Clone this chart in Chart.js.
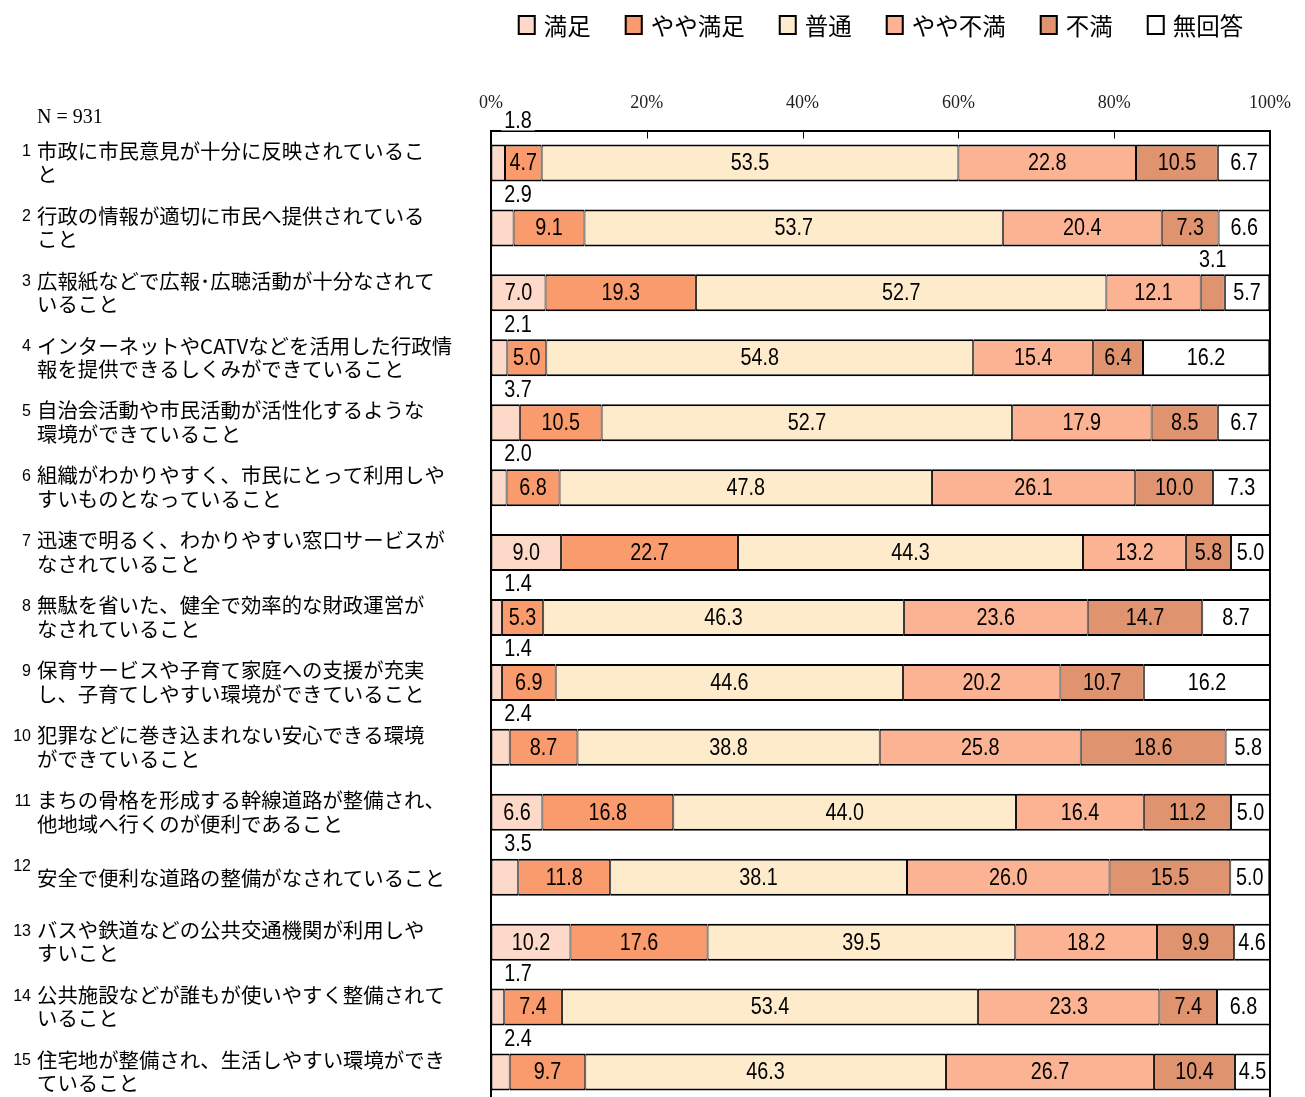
<!DOCTYPE html>
<html lang="ja">
<head>
<meta charset="utf-8">
<script src="https://cdn.jsdelivr.net/npm/chart.js@4.4.1/dist/chart.umd.min.js"></script>
<style>
html, body { margin: 0; padding: 0; background: #fff; overflow: hidden; }
canvas { display: block; }
</style>
</head>
<body>
<canvas id="chart" width="1305" height="1110"></canvas>
<script>
// Data
const categories = ["1","2","3","4","5","6","7","8","9","10","11","12","13","14","15"];
const itemLabels = [
["市政に市民意見が十分に反映されているこ", "と"],
["行政の情報が適切に市民へ提供されている", "こと"],
["広報紙などで広報･広聴活動が十分なされて", "いること"],
["インターネットやCATVなどを活用した行政情", "報を提供できるしくみができていること"],
["自治会活動や市民活動が活性化するような", "環境ができていること"],
["組織がわかりやすく、市民にとって利用しや", "すいものとなっていること"],
["迅速で明るく、わかりやすい窓口サービスが", "なされていること"],
["無駄を省いた、健全で効率的な財政運営が", "なされていること"],
["保育サービスや子育て家庭への支援が充実", "し、子育てしやすい環境ができていること"],
["犯罪などに巻き込まれない安心できる環境", "ができていること"],
["まちの骨格を形成する幹線道路が整備され、", "他地域へ行くのが便利であること"],
["安全で便利な道路の整備がなされていること"],
["バスや鉄道などの公共交通機関が利用しや", "すいこと"],
["公共施設などが誰もが使いやすく整備されて", "いること"],
["住宅地が整備され、生活しやすい環境ができ", "ていること"]
];
const seriesNames = ["満足", "やや満足", "普通", "やや不満", "不満", "無回答"];
const satisfied = [1.8, 2.9, 7.0, 2.1, 3.7, 2.0, 9.0, 1.4, 1.4, 2.4, 6.6, 3.5, 10.2, 1.7, 2.4];
const somewhatSatisfied = [4.7, 9.1, 19.3, 5.0, 10.5, 6.8, 22.7, 5.3, 6.9, 8.7, 16.8, 11.8, 17.6, 7.4, 9.7];
const neutral = [53.5, 53.7, 52.7, 54.8, 52.7, 47.8, 44.3, 46.3, 44.6, 38.8, 44.0, 38.1, 39.5, 53.4, 46.3];
const somewhatDissatisfied = [22.8, 20.4, 12.1, 15.4, 17.9, 26.1, 13.2, 23.6, 20.2, 25.8, 16.4, 26.0, 18.2, 23.3, 26.7];
const dissatisfied = [10.5, 7.3, 3.1, 6.4, 8.5, 10.0, 5.8, 14.7, 10.7, 18.6, 11.2, 15.5, 9.9, 7.4, 10.4];
const noAnswer = [6.7, 6.6, 5.7, 16.2, 6.7, 7.3, 5.0, 8.7, 16.2, 5.8, 5.0, 5.0, 4.6, 6.8, 4.5];
const xTicks = [0, 20, 40, 60, 80, 100];
const sampleSize = "N = 931";

const colors = ["#fdd9ca", "#f99b6c", "#feebcc", "#fbb393", "#e0936f", "#ffffff"];
const seriesData = [satisfied, somewhatSatisfied, neutral, somewhatDissatisfied, dissatisfied, noAnswer];

const valueFont = "23px 'Liberation Sans', Arial, sans-serif";
const jpFont = "'Noto Sans CJK JP', 'Noto Sans', sans-serif";

// narrow-looking text: squeeze horizontally
function narrowText(ctx, txt, x, y) {
ctx.save();
ctx.translate(x, y);
ctx.scale(0.86, 1);
ctx.fillText(txt, 0, 0);
ctx.restore();
}


// Labels, legend, frame and value labels
const extras = {
id: "extras",
afterDraw(chart) {

const { ctx, chartArea, scales } = chart;
const xs = scales.x;
const ys = scales.y;

ctx.save();

// frame sides
ctx.strokeStyle = "#000";
ctx.lineWidth = 2;
ctx.beginPath();
ctx.moveTo(chartArea.left, chartArea.top);
ctx.lineTo(chartArea.left, chartArea.bottom + 10);
ctx.moveTo(chartArea.right, chartArea.top);
ctx.lineTo(chartArea.right, chartArea.bottom + 10);
ctx.stroke();

// inner tick marks
ctx.lineWidth = 1;
xTicks.slice(1, -1).forEach((v) => {
const px = Math.round(xs.getPixelForValue(v)) + 0.5;
ctx.beginPath();
ctx.moveTo(px, chartArea.top);
ctx.lineTo(px, chartArea.top + 8);
ctx.stroke();
});

// value labels
ctx.font = valueFont;
ctx.textAlign = "center";
ctx.textBaseline = "middle";
ctx.fillStyle = "#000";

seriesData.forEach((arr, di) => {
const meta = chart.getDatasetMeta(di);
meta.data.forEach((bar, i) => {
const p = bar.getProps(["x", "base", "y", "height"], true);
const v = arr[i];
const txt = v.toFixed(1);
const cx = (p.x + p.base) / 2;
if (v >= 4) {
narrowText(ctx, txt, cx, p.y + 1);
} else {
const top = p.y - p.height / 2;
let ly = top - 14;
if (ly < chartArea.top + 5) ly = chartArea.top - 9;
const lx = Math.max(cx, chartArea.left + 27);
const w = ctx.measureText(txt).width * 0.86;
ctx.fillStyle = "#fff";
ctx.fillRect(lx - w / 2 - 3, ly - 10, w + 6, 19);
ctx.fillStyle = "#000";
narrowText(ctx, txt, lx, ly);
}
});
});

// item labels on the left
categories.forEach((num, i) => {
const cy = ys.getPixelForValue(i);
const lines = itemLabels[i];
const firstY = cy - 12;
const startY = lines.length === 1 ? cy + 1 : firstY;

ctx.textAlign = "right";
ctx.font = "16px 'Liberation Sans', Arial, sans-serif";
ctx.fillText(num, 31, firstY + 1);

ctx.textAlign = "left";
ctx.font = "20.4px " + jpFont;
lines.forEach((ln, k) => {
ctx.fillText(ln, 37, startY + k * 23.5);
});
});

// sample size
ctx.font = "20px 'Liberation Serif', 'DejaVu Serif', serif";
ctx.textAlign = "left";
ctx.fillText(sampleSize, 37, 118);

// legend
ctx.font = "23.5px " + jpFont;
const boxW = 18, boxH = 20, gapText = 8, gapItem = 34;
const widths = seriesNames.map((s) => ctx.measureText(s).width);
const total = widths.reduce((a, w) => a + boxW + gapText + w, 0) + gapItem * (seriesNames.length - 1);
let lx = (chartArea.left + chartArea.right) / 2 - total / 2;
const ly = 25;
seriesNames.forEach((s, k) => {
ctx.fillStyle = colors[k];
ctx.fillRect(lx, ly - boxH / 2, boxW, boxH);
ctx.strokeStyle = "#000";
ctx.lineWidth = 2;
ctx.strokeRect(lx + 1, ly - boxH / 2 + 1, boxW - 2, boxH - 2);
ctx.fillStyle = "#000";
ctx.textAlign = "left";
ctx.fillText(s, lx + boxW + gapText, ly + 1);
lx += boxW + gapText + widths[k] + gapItem;
});

ctx.restore();
}
};


const datasets = seriesNames.map((name, k) => ({
label: name,
data: seriesData[k],
backgroundColor: colors[k],
borderColor: "#000",
borderWidth: { top: 2, bottom: 2, left: 1, right: 1 },
borderSkipped: false,
barPercentage: 0.57,
categoryPercentage: 1
}));


new Chart(document.getElementById("chart").getContext("2d"), {
type: "bar",
data: { labels: categories, datasets },
options: {
indexAxis: "y",
responsive: false,
animation: false,
devicePixelRatio: 1,
layout: { padding: { top: 80, left: 491, right: 35, bottom: 5.5 } },
plugins: {
legend: { display: false },
tooltip: { enabled: false }
},
scales: {
x: {
position: "top",
stacked: true,
min: 0,
max: 100,
afterFit: (s) => { s.height = 50.5; s.paddingLeft = 0; s.paddingRight = 0; },
afterBuildTicks: (s) => { s.ticks = xTicks.map((v) => ({ value: v })); },
grid: { display: true, drawOnChartArea: false, drawTicks: false },
border: { display: true, color: "#000", width: 2 },
ticks: {
padding: 16,
color: "#222",
font: { family: "'Liberation Serif', 'DejaVu Serif', serif", size: 18 },
callback: (v) => v + "%"
}
},
y: {
stacked: true,
display: false
}
}
},
plugins: [extras]
});
</script>
</body>
</html>
